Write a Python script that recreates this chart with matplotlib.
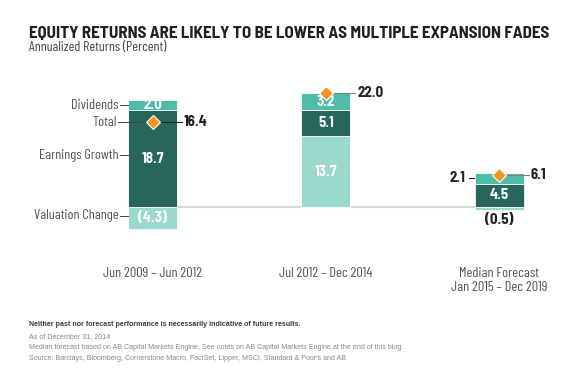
import matplotlib
matplotlib.use("Agg")
import matplotlib.pyplot as plt
import numpy as np

periods = ["Jun 2009 – Jun 2012", "Jul 2012 – Dec 2014", "Median Forecast\nJan 2015 – Dec 2019"]
valuation = [-4.3, 13.7, -0.5]
earnings = [18.7, 5.1, 4.5]
dividends = [2.0, 3.2, 2.1]
total = [16.4, 22.0, 6.1]

C_DARK = "#26665b"
C_MID = "#4dbda8"
C_LIGHT = "#9bd9cd"
C_ORANGE = "#f7941d"
COND = "Barlow Semi Condensed"
LABEL = "Barlow Condensed"
INK = "#231f20"

W, H = 580, 383
fig = plt.figure(figsize=(W / 100, H / 100), dpi=100)
renderer = fig.canvas.get_renderer()


def fit(t, target_px):
    """Scale a text's font size so its rendered width matches target_px."""
    w = t.get_window_extent(renderer).width
    t.set_fontsize(t.get_fontsize() * target_px / w)
    return t.get_fontsize()


# axes placed so that y=0 sits at px 207 and 1 unit = 5.17 px
ppu = 5.17
y0, y1 = -5.0, 23.0
top_px = 207 - y1 * ppu
bot_px = 207 - y0 * ppu
x0, x1 = -0.6, 2.3
spacing = 173.3
left_px = 152.5 + x0 * spacing
right_px = 152.5 + x1 * spacing
ax = fig.add_axes([left_px / W, 1 - bot_px / H, (right_px - left_px) / W, (bot_px - top_px) / H])
ax.set_xlim(x0, x1)
ax.set_ylim(y0, y1)
ax.axis("off")

x = np.arange(len(periods))
bw = 0.283

# stack positives upward from zero, negatives downward
series = [(valuation, C_LIGHT), (earnings, C_DARK), (dividends, C_MID)]
pos = np.zeros(len(x))
neg = np.zeros(len(x))
segs = []
for vals, col in series:
    vals = np.array(vals)
    bottoms = np.where(vals >= 0, pos, neg)
    ax.bar(x, vals, bw, bottom=bottoms, color=col, edgecolor="white", linewidth=0.6, zorder=3)
    segs.append((vals, bottoms))
    pos = pos + np.clip(vals, 0, None)
    neg = neg + np.clip(vals, None, 0)

ax.plot([x[0], x[2]], [0, 0], color="#d9d9d9", lw=1.6, zorder=1)

# value font size from the width of "16.4" (~24 px)
probe = fig.text(0, 0, "16.4", fontsize=10, fontweight="bold", fontfamily=COND)
VFS = fit(probe, 24)
probe.remove()


def fmt(v):
    return f"({abs(v):.1f})" if v < 0 else f"{v:.1f}"


# value labels
for k, (vals, bottoms) in enumerate(segs):
    for i in range(len(x)):
        v, b = vals[i], bottoms[i]
        mid = b + v / 2
        if i == 2 and k == 2:
            ax.annotate(fmt(v), (x[i] - bw / 2, mid), xytext=(-6.5, 0), textcoords="offset points",
                        ha="right", va="center", fontsize=VFS, fontweight="bold", color=INK,
                        fontfamily=COND, annotation_clip=False)
            ax.plot([x[i] - bw / 2 - 6 / spacing, x[i] - bw / 2], [mid, mid], color=INK, lw=0.7)
        elif i == 2 and k == 0:
            ax.annotate(fmt(v), (x[i], b + v), xytext=(0, -2.5), textcoords="offset points",
                        ha="center", va="top", fontsize=VFS, fontweight="bold", color=INK,
                        fontfamily=COND)
        else:
            ax.text(x[i], mid, fmt(v), ha="center", va="center", fontsize=VFS,
                    fontweight="bold", color="white", fontfamily=COND, zorder=5)

# totals: diamond + leader line + label
for i in range(len(x)):
    t = total[i]
    ax.plot(x[i], t, marker="D", ms=7, color=C_ORANGE, mec="white", mew=0.8, zorder=6)
    end = x[i] + bw / 2 + 5 / spacing
    lc = INK if i == 0 else "#777777"
    ax.plot([x[i], end], [t, t], color=lc, lw=0.7, zorder=4)
    ax.text(end + 2 / spacing, t, f"{t:.1f}", ha="left", va="center", fontsize=VFS,
            fontweight="bold", color=INK, fontfamily=COND)

# left-hand component labels for the first bar
xl = x[0] - bw / 2
probe = fig.text(0, 0, "Earnings Growth", fontsize=10, fontfamily=LABEL)
LFS = fit(probe, 80)
probe.remove()
left_items = [("Dividends", earnings[0] + dividends[0] / 2, 8),
              ("Total", total[0], 10),
              ("Earnings Growth", 10.0, 8),
              ("Valuation Change", valuation[0] + 2.6, 8)]
for name, yv, ln in left_items:
    x_end = xl if name != "Total" else x[0]
    ax.plot([xl - ln / spacing, x_end], [yv, yv], color="#444444", lw=0.7, zorder=4)
    ax.text(xl - (ln + 1.5) / spacing, yv, name, ha="right", va="center", fontsize=LFS,
            color="#555555", fontfamily=LABEL)

# period labels
for i, p in enumerate(periods):
    ax.text(x[i], -11.7, p, ha="center", va="top", fontsize=LFS, color="#555555",
            fontfamily=LABEL, linespacing=1.1)

title = fig.text(29 / W, 1 - 33 / H, "EQUITY RETURNS ARE LIKELY TO BE LOWER AS MULTIPLE EXPANSION FADES",
                 ha="left", va="center", fontsize=11, fontweight="bold", color=INK, fontfamily=COND)
fit(title, 519)
sub = fig.text(29 / W, 1 - 47 / H, "Annualized Returns (Percent)", ha="left", va="center",
               fontsize=8.5, color="#444444", fontfamily=LABEL)
fit(sub, 138)

notes = [("Neither past nor forecast performance is necessarily indicative of future results.", "bold", "#3a3a3a"),
         ("As of December 31, 2014", "normal", "#888888"),
         ("Median forecast based on AB Capital Markets Engine. See notes on AB Capital Markets Engine at the end of this blog.", "normal", "#888888"),
         ("Source: Barclays, Bloomberg, Cornerstone Macro, FactSet, Lipper, MSCI, Standard & Poor's and AB", "normal", "#888888")]
nt = []
for j, (s, w, c) in enumerate(notes):
    nt.append(fig.text(29 / W, 1 - (325 + 11.3 * j) / H, s, ha="left", va="center", fontsize=5.5,
                       fontweight=w, color=c, fontfamily="Liberation Sans"))
NFS = fit(nt[2], 379)
for t in nt:
    t.set_fontsize(NFS)

fig.savefig("out.png", dpi=100, facecolor="white")
